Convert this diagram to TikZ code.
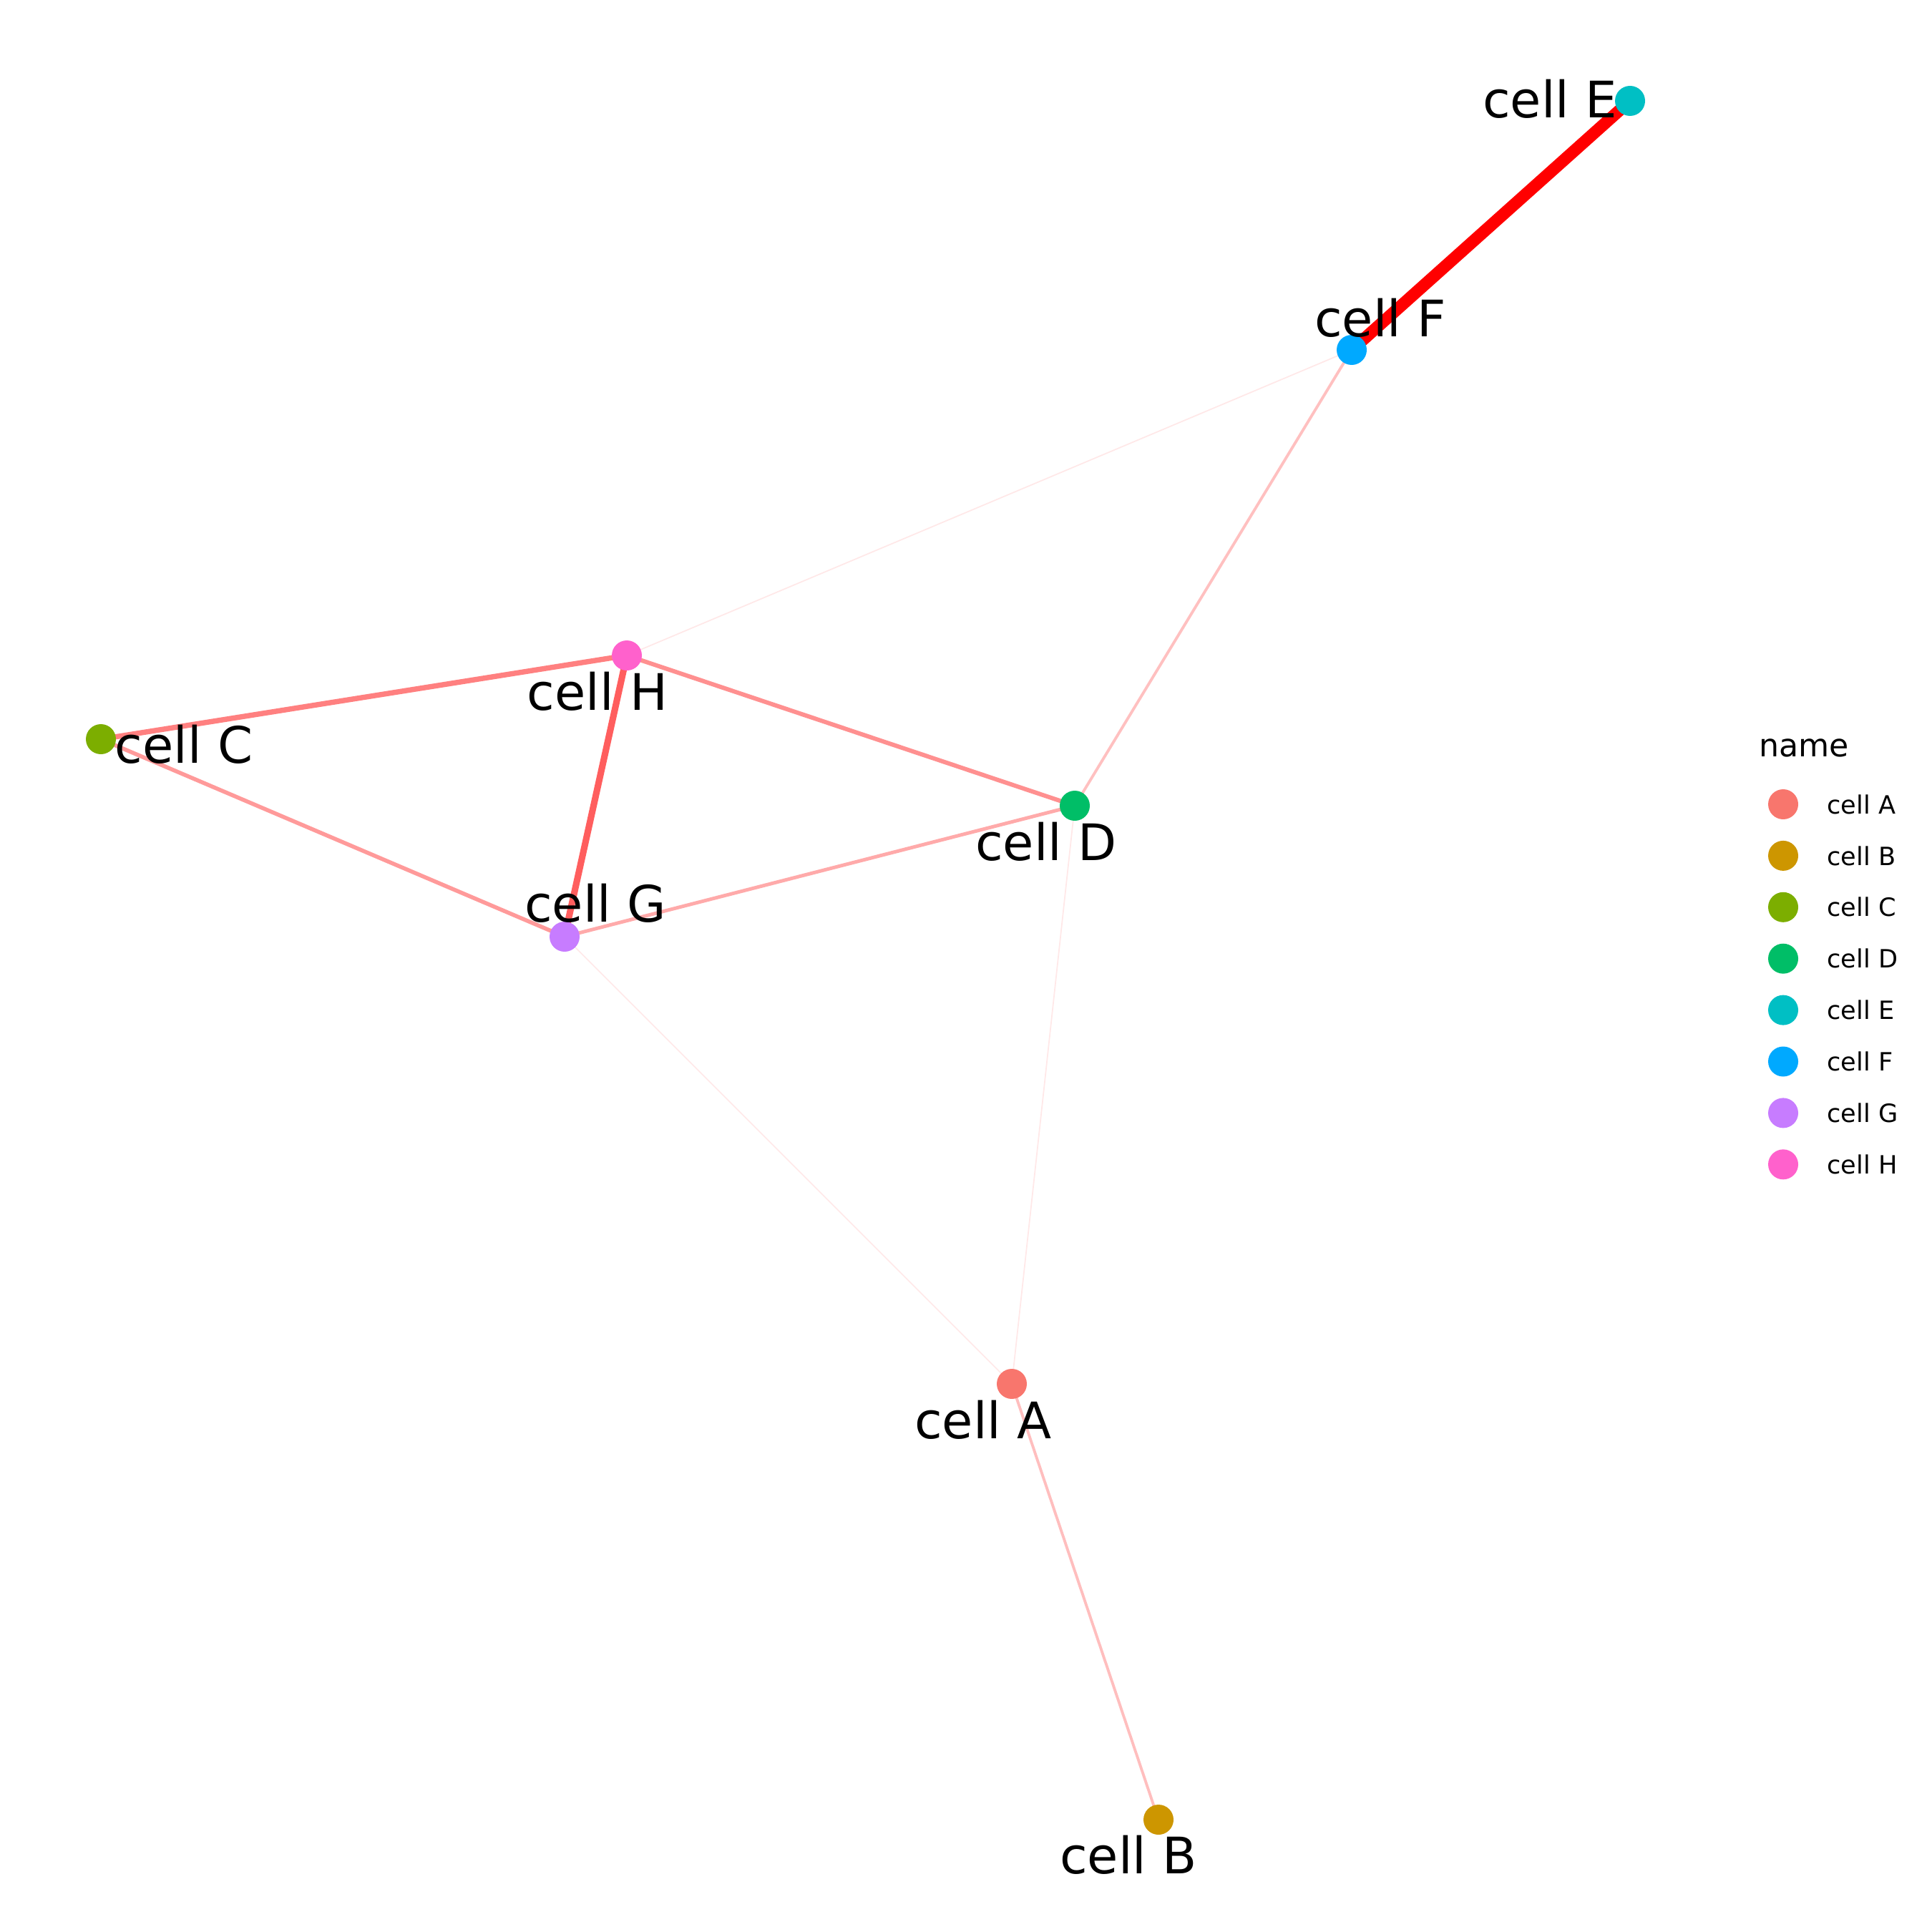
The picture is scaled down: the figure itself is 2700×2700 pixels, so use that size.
\documentclass[tikz,border=0pt]{standalone}
\usepackage{fontspec}
\setmainfont{DejaVu Sans}
\pgfdeclarelayer{background}
\pgfsetlayers{background,main}
\definecolor{cA}{HTML}{F8766D}
\definecolor{cB}{HTML}{CD9600}
\definecolor{cC}{HTML}{7CAE00}
\definecolor{cD}{HTML}{00BE67}
\definecolor{cE}{HTML}{00BFC4}
\definecolor{cF}{HTML}{00A9FF}
\definecolor{cG}{HTML}{C77CFF}
\definecolor{cH}{HTML}{FF61CC}
\begin{document}
\begin{tikzpicture}[x=0.05mm,y=-0.05mm,
	dot/.style={circle,inner sep=0pt,minimum size=2.1mm},
	lab/.style={font=\fontsize{10}{12}\selectfont,inner sep=0pt},
	key/.style={font=\fontsize{5}{6}\selectfont,inner sep=0pt,anchor=west}]
	\useasboundingbox (0,0) rectangle (2700,2700);
	\node[dot,fill=cA] (A) at (1414,1934) {};
	\node[dot,fill=cB] (B) at (1619,2543) {};
	\node[dot,fill=cC] (C) at (141,1033) {};
	\node[dot,fill=cD] (D) at (1502,1126) {};
	\node[dot,fill=cE] (E) at (2278,141) {};
	\node[dot,fill=cF] (F) at (1889,489) {};
	\node[dot,fill=cG] (G) at (789,1309) {};
	\node[dot,fill=cH] (H) at (876,916) {};
	\begin{pgfonlayer}{background}
		\draw[line width=2.4pt,color={rgb,255:red,255;green,0;blue,0}] (E.center) -- (F.center);
		\draw[line width=1.3pt,color={rgb,255:red,255;green,94;blue,94}] (H.center) -- (G.center);
		\draw[line width=1.05pt,color={rgb,255:red,255;green,128;blue,128}] (H.center) -- (C.center);
		\draw[line width=0.85pt,color={rgb,255:red,255;green,144;blue,144}] (H.center) -- (D.center);
		\draw[line width=0.8pt,color={rgb,255:red,255;green,154;blue,154}] (C.center) -- (G.center);
		\draw[line width=0.7pt,color={rgb,255:red,255;green,170;blue,170}] (G.center) -- (D.center);
		\draw[line width=0.55pt,color={rgb,255:red,255;green,192;blue,192}] (F.center) -- (D.center);
		\draw[line width=0.55pt,color={rgb,255:red,255;green,190;blue,190}] (A.center) -- (B.center);
		\draw[line width=0.25pt,color={rgb,255:red,255;green,232;blue,232}] (F.center) -- (H.center);
		\draw[line width=0.25pt,color={rgb,255:red,255;green,232;blue,232}] (G.center) -- (A.center);
		\draw[line width=0.25pt,color={rgb,255:red,255;green,232;blue,232}] (D.center) -- (A.center);
	\end{pgfonlayer}
	% labels
	\node[lab] (labA) at (1374,1984) {cell A};
	\node[lab] (labB) at (1577,2592) {cell B};
	\node[lab] (labC) at (257,1040) {cell C};
	\node[lab] (labD) at (1462,1176) {cell D};
	\node[lab] (labE) at (2166,138) {cell E};
	\node[lab] (labF) at (1929,444) {cell F};
	\node[lab] (labG) at (832,1262) {cell G};
	\node[lab] (labH) at (835,966) {cell H};
	% legend
	\node[key,font=\fontsize{6.3}{7.5}\selectfont] (title) at (2457,1045) {name};
	\foreach \n/\c [count=\i from 0] in {A/cA,B/cB,C/cC,D/cD,E/cE,F/cF,G/cG,H/cH}{
		\node[dot,fill=\c] (k\n) at (2492,1124+71.9*\i) {};
		\node[key] (t\n) at (2552,1124+71.9*\i) {cell \n};
	}
\end{tikzpicture}
\end{document}
